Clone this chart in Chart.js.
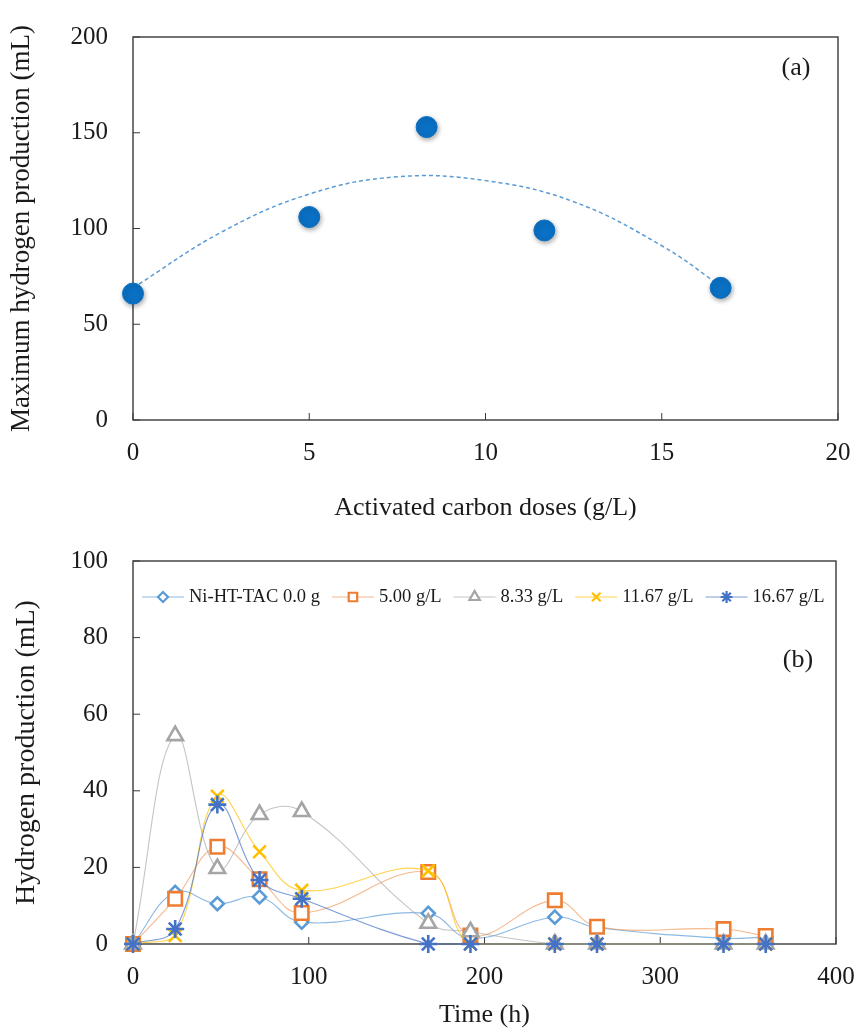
<!DOCTYPE html>
<html>
<head>
<meta charset="utf-8">
<script src="https://cdn.jsdelivr.net/npm/chart.js@4/dist/chart.umd.min.js"></script>
<style>
  body{margin:0;background:#fff;}
  .wrap{position:relative;width:857px;height:1033px;}
  canvas{position:absolute;left:0;}
  #chartA{top:0;}
  #chartB{top:535px;}
</style>
</head>
<body>
<div class="wrap">
  <canvas id="chartA" width="857" height="535"></canvas>
  <canvas id="chartB" width="857" height="498"></canvas>
</div>
<script>
// (a) max hydrogen vs activated carbon dose
const doses = [0, 5, 8.33, 11.67, 16.67];
const maxH2 = [66, 106, 153, 99, 69];
// dashed trendline
const trendX = [0, 2.5, 5, 7.5, 10, 12.5, 15, 16.67];
const trendY = [69, 98, 118, 127, 125, 114, 91, 70];
const doseTicks = [0, 5, 10, 15, 20];
const maxTicks = [0, 50, 100, 150, 200];

// (b) hydrogen production over time
const hours = [0, 24, 48, 72, 96, 168, 192, 240, 264, 336, 360];
const ni0 = [0, 13.5, 10.5, 12.3, 5.7, 8, 1.4, 7, 4.3, 1.5, 1.8];
const ac500 = [0, 11.8, 25.4, 16.9, 8.1, 18.8, 2.2, 11.4, 4.5, 3.9, 2.1];
const ac833 = [0, 54.4, 19.7, 33.8, 34.6, 5.4, 3.2, 0, 0, 0, 0];
const ac1167 = [0, 2.2, 38.6, 24.1, 14, 19.1, 0, 0, 0, 0, 0];
const ac1667 = [0, 3.9, 36.4, 16.7, 11.8, 0, 0, 0, 0, 0, 0];
const seriesNames = ['Ni-HT-TAC 0.0 g', '5.00 g/L', '8.33 g/L', '11.67 g/L', '16.67 g/L'];
const hourTicks = [0, 100, 200, 300, 400];
const prodTicks = [0, 20, 40, 60, 80, 100];

const serif = "'Liberation Serif', 'Times New Roman', serif";
Chart.defaults.font.family = serif;
Chart.defaults.color = '#1a1a1a';

function pts(xs, ys){
  return xs.map((x, i) => ({x: x, y: ys[i]}));
}

// box round the plot plus small inward tick marks
const framePlugin = {
  id: 'frame',
  beforeDatasetsDraw(chart){
    const c = chart.ctx, a = chart.chartArea;
    const sx = chart.scales.x, sy = chart.scales.y;
    c.save();
    c.strokeStyle = '#3a3a3a';
    c.lineWidth = 1.4;
    c.strokeRect(a.left, a.top, a.right - a.left, a.bottom - a.top);
    c.lineWidth = 1;
    c.beginPath();
    sx.ticks.forEach(t => {
      const px = sx.getPixelForValue(t.value);
      c.moveTo(px, a.bottom); c.lineTo(px, a.bottom - 7);
    });
    sy.ticks.forEach(t => {
      const py = sy.getPixelForValue(t.value);
      c.moveTo(a.left, py); c.lineTo(a.left + 7, py);
    });
    c.stroke();
    c.restore();
  },
  afterDraw(chart, args, opts){
    const c = chart.ctx, a = chart.chartArea;
    c.save();
    c.font = '26px ' + serif;
    c.fillStyle = '#1a1a1a';
    c.textAlign = 'center';
    c.textBaseline = 'middle';
    c.fillText(opts.tag, a.right - opts.dx, a.top + opts.dy);
    c.restore();
  }
};

// tick gap is given as an (invisible) tick length so it does not pad the chart area
function axis(ticks, title, titleSize, titlePad, gap, fitFn){
  return {
    type: 'linear',
    min: ticks[0],
    max: ticks[ticks.length - 1],
    afterBuildTicks: s => { s.ticks = ticks.map(v => ({value: v})); },
    afterFit: fitFn,
    grid: {display: false, drawTicks: true, tickLength: gap},
    border: {display: false},
    ticks: {font: {size: 25}, padding: 0, color: '#1a1a1a'},
    title: {display: true, text: title, font: {size: titleSize}, padding: titlePad, color: '#1a1a1a'}
  };
}

// ---- chart (a)
const shadowPlugin = {
  id: 'dotShadow',
  beforeDatasetDraw(chart, args){
    if (args.index !== 0) return;
    const c = chart.ctx;
    c.save();
    c.shadowColor = 'rgba(0,0,0,0.35)';
    c.shadowBlur = 5;
    c.shadowOffsetX = 1;
    c.shadowOffsetY = 2;
  },
  afterDatasetDraw(chart, args){
    if (args.index !== 0) return;
    chart.ctx.restore();
  }
};

new Chart(document.getElementById('chartA'), {
  type: 'scatter',
  data: {
    datasets: [{
      data: pts(doses, maxH2),
      backgroundColor: '#0a70c4',
      borderColor: '#0a70c4',
      pointRadius: 10.5,
      pointHoverRadius: 10.5,
      clip: false,
      order: 1
    }, {
      data: pts(trendX, trendY),
      showLine: true,
      borderColor: '#5b9bd5',
      borderWidth: 1.5,
      borderDash: [4, 3],
      pointRadius: 0,
      tension: 0.4,
      order: 2
    }]
  },
  options: {
    responsive: false,
    animation: false,
    layout: {padding: {left: 0, top: 37, right: 19, bottom: 0}},
    plugins: {legend: {display: false}, tooltip: {enabled: false}, frame: {tag: '(a)', dx: 42, dy: 31}},
    scales: {
      x: axis(doseTicks, 'Activated carbon doses (g/L)', 26, {top: 0, bottom: 11}, 18, s => { s.height = 115; }),
      y: axis(maxTicks, 'Maximum hydrogen production (mL)', 27, {top: 6, bottom: 0}, 25, s => { s.width = 133; })
    }
  },
  plugins: [framePlugin, shadowPlugin]
});

// ---- chart (b)
const colors = ['#5b9bd5', '#ed7d31', '#a5a5a5', '#ffc000', '#4472c4'];
const lineColors = ['rgba(91,155,213,0.7)', 'rgba(237,125,49,0.55)', 'rgba(165,165,165,0.65)', 'rgba(255,192,0,0.7)', 'rgba(68,114,196,0.7)'];
const styles = ['rectRot', 'rect', 'triangle', 'crossRot', 'star'];
const radii = [6.5, 9.5, 9, 9, 9];
const fills = ['#fff', '#fff', '#fff', colors[3], colors[4]];
const allSeries = [ni0, ac500, ac833, ac1167, ac1667];

const legendPlugin = {
  id: 'lineLegend',
  afterDraw(chart){
    const c = chart.ctx, a = chart.chartArea;
    const H = Chart.helpers;
    let x = a.left + 9;
    const y = a.top + 36;
    c.save();
    c.font = '18.5px ' + serif;
    c.textBaseline = 'middle';
    seriesNames.forEach((name, i) => {
      c.strokeStyle = lineColors[i];
      c.lineWidth = 1.2;
      c.beginPath(); c.moveTo(x, y); c.lineTo(x + 42, y); c.stroke();
      c.strokeStyle = colors[i];
      c.fillStyle = fills[i];
      c.lineWidth = 2.2;
      if (H && H.drawPoint) {
        H.drawPoint(c, {pointStyle: styles[i], radius: i === 0 ? 5 : 6, rotation: 0, borderWidth: 2.2}, x + 21, y);
      }
      c.fillStyle = '#1a1a1a';
      c.fillText(name, x + 47, y);
      x += 47 + c.measureText(name).width + 12;
    });
    c.restore();
  }
};

new Chart(document.getElementById('chartB'), {
  type: 'line',
  data: {
    datasets: allSeries.map((vals, i) => ({
      label: seriesNames[i],
      data: pts(hours, vals),
      borderColor: lineColors[i],
      borderWidth: 1.1,
      tension: 0.4,
      pointStyle: styles[i],
      pointRadius: radii[i],
      pointHoverRadius: radii[i],
      pointBorderColor: colors[i],
      pointBackgroundColor: fills[i],
      pointBorderWidth: 2.6,
      clip: false,
      order: 5 - i
    }))
  },
  options: {
    responsive: false,
    animation: false,
    layout: {padding: {left: 0, top: 26, right: 21, bottom: 0}},
    plugins: {legend: {display: false}, tooltip: {enabled: false}, frame: {tag: '(b)', dx: 38, dy: 99}},
    scales: {
      x: axis(hourTicks, 'Time (h)', 26, {top: 0, bottom: 2}, 18, s => { s.height = 89; }),
      y: axis(prodTicks, 'Hydrogen production (mL)', 28, {top: 10, bottom: 0}, 25, s => { s.width = 133; })
    }
  },
  plugins: [framePlugin, legendPlugin]
});
</script>
</body>
</html>
